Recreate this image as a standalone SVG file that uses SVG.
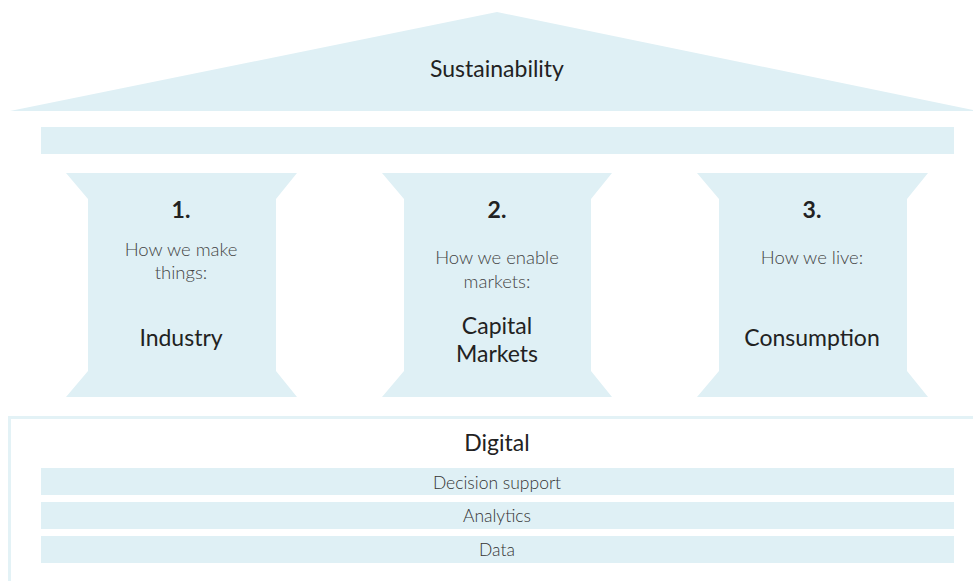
<svg xmlns="http://www.w3.org/2000/svg" width="973" height="581" viewBox="0 0 973 581">
<style>
.f{fill:#dff0f5}
.t{font-family:Lato,"Liberation Sans",sans-serif;fill:#222;text-anchor:middle}
.h{font-size:23px;font-weight:400}
.n{font-size:23px;font-weight:700}
.s{font-size:18.5px;font-weight:300;fill:#444}
.b{font-size:17.5px;font-weight:300;fill:#333}
</style>
<rect width="973" height="581" fill="#fff"/>
<g id="roof">
<polygon class="f" points="10,111 497,12 973,110 973,111"/>
<text class="t h" x="497" y="77">Sustainability</text>
</g>
<g id="beam"><rect class="f" x="41" y="127" width="913" height="27"/></g>
<g id="pillar1">
<polygon class="f" points="66,173 297,173 276,199 276,371 297,397 66,397 88,371 88,199"/>
<text class="t n" x="181" y="218">1.</text>
<text class="t s" x="181" y="256">How we make</text>
<text class="t s" x="181" y="279">things:</text>
<text class="t h" x="181" y="346">Industry</text>
</g>
<g id="pillar2">
<polygon class="f" points="382,173 612,173 591,199 591,371 612,397 382,397 404,371 404,199"/>
<text class="t n" x="497" y="218">2.</text>
<text class="t s" x="497" y="264">How we enable</text>
<text class="t s" x="497" y="288">markets:</text>
<text class="t h" x="497" y="334">Capital</text>
<text class="t h" x="497" y="362">Markets</text>
</g>
<g id="pillar3">
<polygon class="f" points="697,173 928,173 907,199 907,371 928,397 697,397 719,371 719,199"/>
<text class="t n" x="812" y="218">3.</text>
<text class="t s" x="812" y="264">How we live:</text>
<text class="t h" x="812" y="346">Consumption</text>
</g>
<g id="foundation">
<path d="M9.5,590 V417.5 H980" fill="none" stroke="#e3f2f6" stroke-width="3"/>
<text class="t h" x="497" y="451">Digital</text>
<rect class="f" x="41" y="468" width="913" height="27"/>
<text class="t b" x="497" y="489">Decision support</text>
<rect class="f" x="41" y="502" width="913" height="27"/>
<text class="t b" x="497" y="522">Analytics</text>
<rect class="f" x="41" y="536" width="913" height="27"/>
<text class="t b" x="497" y="556">Data</text>
</g>
<g id="connectors"/>
</svg>
